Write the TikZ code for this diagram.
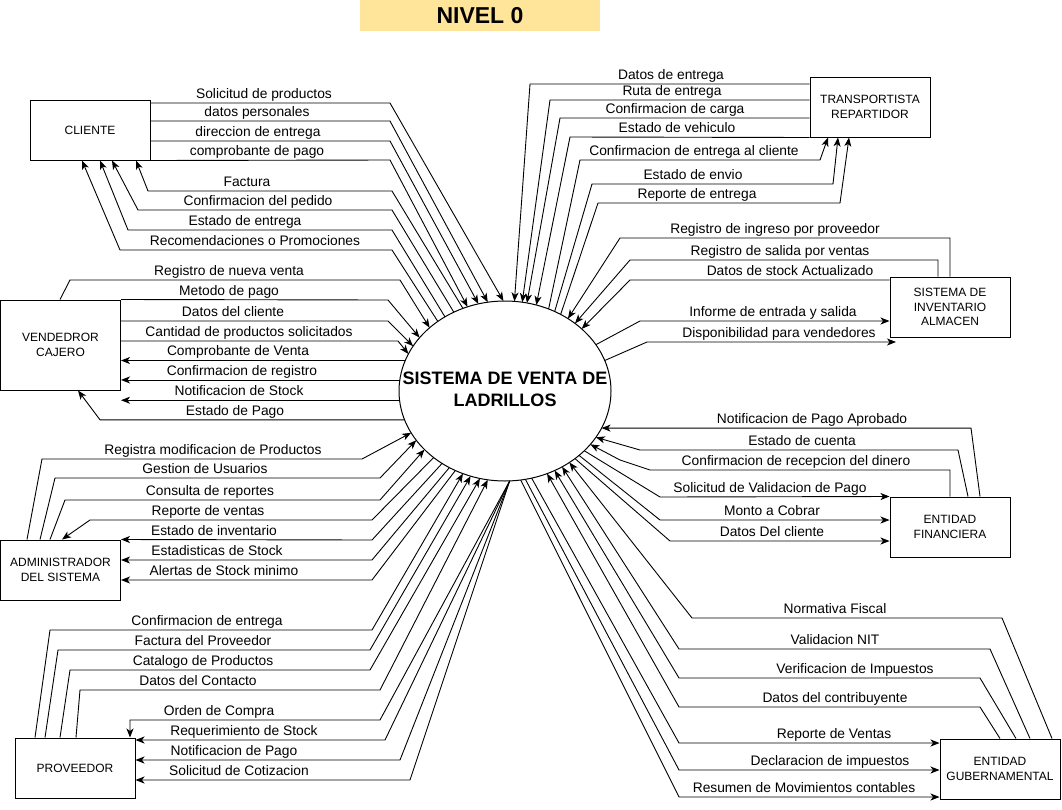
\documentclass[tikz,border=0pt]{standalone}
\usepackage{fontspec}
\setmainfont{Liberation Sans}
\usetikzlibrary{arrows.meta,shapes.geometric}
\definecolor{titlefill}{HTML}{FFE599}
\newcommand{\lblsize}{\fontsize{13.8}{16}\selectfont}
\newcommand{\entsize}{\fontsize{12}{14.5}\selectfont}

\begin{document}
\begin{tikzpicture}[x=1pt,y=-1pt,
    ent/.style={draw,line width=1pt,minimum width=120,minimum height=60,inner sep=0pt,align=center,font=\entsize},
    flow/.style={line width=0.9pt,-{Stealth[length=9pt,width=7pt,inset=2.5pt]}},
    lbl/.style={anchor=south,inner sep=1pt,text height=10pt,text depth=3pt,font=\lblsize}]
    \useasboundingbox (0,0) rectangle (1062,809);
    \node[fill=titlefill,minimum width=240,minimum height=31,inner sep=0pt,font=\bfseries\fontsize{23}{26}\selectfont] (title) at (480,15.5) {NIVEL 0};
    \node[draw,ellipse,line width=1pt,minimum width=212,minimum height=180,inner sep=0pt,outer sep=0pt] (sys) at (505,391) {};
    \node[font=\bfseries\fontsize{18}{22}\selectfont,align=center] (systxt) at (505,389) {SISTEMA DE VENTA DE\\LADRILLOS};
    \node[ent] (cli) at (90,130) {CLIENTE};
    \node[ent,minimum height=90] (ven) at (60.5,345) {VENDEDROR\\CAJERO};
    \node[ent] (adm) at (60.5,570) {ADMINISTRADOR\\DEL SISTEMA};
    \node[ent] (pro) at (75,768) {PROVEEDOR};
    \node[ent] (tra) at (870,107) {TRANSPORTISTA\\REPARTIDOR};
    \node[ent] (inv) at (950,307) {SISTEMA DE\\INVENTARIO\\ALMACEN};
    \node[ent] (fin) at (950,527) {ENTIDAD\\FINANCIERA};
    \node[ent] (gub) at (1000,769) {ENTIDAD\\GUBERNAMENTAL};
    \coordinate (disp) at (896,342);

    \draw[flow] (cli.east |- 0,103) -- (390,103) node[lbl] at (264,103) {Solicitud de productos} -- (sys.91);
    \draw[flow] (cli.east |- 0,121) -- (390,121) node[lbl] at (257,121) {datos personales} -- (sys.101);
    \draw[flow] (cli.east |- 0,141) -- (390,141) node[lbl] at (258,141) {direccion de entrega} -- (sys.107);
    \draw[flow] (cli.south east) -- (390,160) node[lbl] at (257,160) {comprobante de pago} -- (sys.114);
    \draw[flow] (sys.117) -- (392,191) -- (148,191) node[lbl] at (247,191) {Factura} -- (136,0 |- cli.south);
    \draw[flow] (sys.123) -- (392,210) -- (138,210) node[lbl] at (258,210) {Confirmacion del pedido} -- (112,0 |- cli.south);
    \draw[flow] (sys.129) -- (392,230) -- (128,230) node[lbl] at (245,230) {Estado de entrega} -- (100,0 |- cli.south);
    \draw[flow] (sys.134) -- (392,250) -- (120,250) node[lbl] at (255,250) {Recomendaciones o Promociones} -- (82,0 |- cli.south);

    \draw[flow] (60,0 |- ven.north) -- (70,280) -- (400,280) node[lbl] at (229,280) {Registro de nueva venta} -- (sys.140);
    \draw[flow] (ven.north east) -- (388,300) node[lbl] at (229,300) {Metodo de pago} -- (sys.148);
    \draw[flow] (ven.east |- 0,321) -- (388,321) node[lbl] at (233,321) {Datos del cliente} -- (sys.154);
    \draw[flow] (ven.east |- 0,341) -- (398,341) node[lbl] at (249,341) {Cantidad de productos solicitados} -- (sys.159);
    \draw[flow] (sys.163) -- (sys.163 -| ven.east) node[lbl] at (238,360) {Comprobante de Venta};
    \draw[flow] (sys.174) -- (sys.174 -| ven.east) node[lbl] at (242,380) {Confirmacion de registro};
    \draw[flow] (sys.185) -- (sys.185 -| ven.east) node[lbl] at (239,400) {Notificacion de Stock};
    \draw[flow] (sys.196) -- (sys.196 -| 100,0) node[lbl] at (235,420) {Estado de Pago} -- (78,0 |- ven.south);

    \draw[flow] (27,0 |- adm.north) -- (42,459) -- (362,459) node[lbl] at (213,459) {Registra modificacion de Productos} -- (sys.204);
    \draw[flow] (40,0 |- adm.north) -- (55,478) -- (380,478) node[lbl] at (205,478) {Gestion de Usuarios} -- (sys.209);
    \draw[flow] (50,0 |- adm.north) -- (65,500) -- (380,500) node[lbl] at (210,500) {Consulta de reportes} -- (sys.216);
    \draw[flow] (sys.223) -- (372,520) -- (90,520) node[lbl] at (208,520) {Reporte de ventas} -- (62,0 |- adm.north);
    \draw[flow] (sys.229) -- (372,540) -- (adm.north east) node[lbl] at (214,540) {Estado de inventario};
    \draw[flow] (sys.234) -- (372,560) -- (372,560 -| adm.east) node[lbl] at (217,560) {Estadisticas de Stock};
    \draw[flow] (sys.238) -- (372,580) -- (372,580 -| adm.east) node[lbl] at (224,580) {Alertas de Stock minimo};

    \draw[flow] (35,0 |- pro.north) -- (50,630) -- (372,630) node[lbl] at (207,630) {Confirmacion de entrega} -- (sys.243);
    \draw[flow] (45,0 |- pro.north) -- (58,650) -- (370,650) node[lbl] at (203,650) {Factura del Proveedor} -- (sys.248);
    \draw[flow] (60,0 |- pro.north) -- (70,670) -- (370,670) node[lbl] at (203,670) {Catalogo de Productos} -- (sys.254);
    \draw[flow] (76,0 |- pro.north) -- (80,690) -- (380,690) node[lbl] at (198,690) {Datos del Contacto} -- (sys.259);
    \draw[flow] (sys.273) -- (380,720) -- (130,720) node[lbl] at (219,720) {Orden de Compra} -- (130,0 |- pro.north);
    \draw[flow] (sys.273) -- (385,740) -- (385,740 -| pro.east) node[lbl] at (244,740) {Requerimiento de Stock};
    \draw[flow] (sys.273) -- (400,760) -- (400,760 -| pro.east) node[lbl] at (234,760) {Notificacion de Pago};
    \draw[flow] (sys.273) -- (410,780) -- (410,780 -| pro.east) node[lbl] at (239,780) {Solicitud de Cotizacion};

    \draw[flow] (tra.west |- 0,84) -- (530,84) node[lbl] at (671,84) {Datos de entrega} -- (sys.84);
    \draw[flow] (tra.west |- 0,100) -- (550,100) node[lbl] at (672,100) {Ruta de entrega} -- (sys.79);
    \draw[flow] (tra.west |- 0,118) -- (560,118) node[lbl] at (675,118) {Confirmacion de carga} -- (sys.76);
    \draw[flow] (tra.south west) -- (570,137) node[lbl] at (677,137) {Estado de vehiculo} -- (sys.70);
    \draw[flow] (sys.62) -- (580,160) -- (820,160) node[lbl] at (694,160) {Confirmacion de entrega al cliente} -- (828,0 |- tra.south);
    \draw[flow] (sys.58) -- (592,184) -- (833,184) node[lbl] at (693,184) {Estado de envio} -- (838,0 |- tra.south);
    \draw[flow] (sys.54) -- (598,203) -- (840,203) node[lbl] at (697,203) {Reporte de entrega} -- (849,0 |- tra.south);

    \draw[flow] (950,0 |- inv.north) -- (950,238) -- (620,238) node[lbl] at (775,238) {Registro de ingreso por proveedor} -- (sys.49);
    \draw[flow] (938,0 |- inv.north) -- (938,260) -- (630,260) node[lbl] at (780,260) {Registro de salida por ventas} -- (sys.44);
    \draw[flow] (inv.west |- 0,280) -- (630,280) node[lbl] at (790,280) {Datos de stock Actualizado} -- (sys.39);
    \draw[flow] (sys.27) -- (640,321) -- (640,321 -| inv.west) node[lbl] at (773,321) {Informe de entrada y salida};
    \draw[flow] (sys.17) -- (647,342) -- (disp) node[lbl] at (779,342) {Disponibilidad para vendedores};

    \draw[flow] (980,0 |- fin.north) -- (sys.339 -| 971,0) node[lbl] at (812,428) {Notificacion de Pago Aprobado} -- (sys.339);
    \draw[flow] (968,0 |- fin.north) -- (958,450) -- (640,450) node[lbl] at (802,450) {Estado de cuenta} -- (sys.333);
    \draw[flow] (950,0 |- fin.north) -- (950,470) -- (650,470) node[lbl] at (796,470) {Confirmacion de recepcion del dinero} -- (620,460) -- (sys.328);
    \draw[flow] (sys.323) -- (660,497) -- (fin.north west) node[lbl] at (770,497) {Solicitud de Validacion de Pago};
    \draw[flow] (sys.319) -- (660,520) -- (660,520 -| fin.west) node[lbl] at (772,520) {Monto a Cobrar};
    \draw[flow] (sys.316) -- (670,541) -- (670,541 -| fin.west) node[lbl] at (772,541) {Datos Del cliente};

    \draw[flow] (1052,0 |- gub.north) -- (1002,618) -- (692,618) node[lbl] at (835,618) {Normativa Fiscal} -- (sys.312);
    \draw[flow] (1030,0 |- gub.north) -- (990,649) -- (679,649) node[lbl] at (835,649) {Validacion NIT} -- (sys.307);
    \draw[flow] (1016,0 |- gub.north) -- (980,678) -- (679,678) node[lbl] at (855,678) {Verificacion de Impuestos} -- (sys.302);
    \draw[flow] (1000,0 |- gub.north) -- (980,707) -- (679,707) node[lbl] at (835,707) {Datos del contribuyente} -- (sys.297);
    \draw[flow] (sys.287) -- (679,743) -- (679,743 -| gub.west) node[lbl] at (834,743) {Reporte de Ventas};
    \draw[flow] (sys.283) -- (679,770) -- (679,770 -| gub.west) node[lbl] at (830,770) {Declaracion de impuestos};
    \draw[flow] (sys.280) -- (679,797) -- (679,797 -| gub.west) node[lbl] at (804,797) {Resumen de Movimientos contables};
\end{tikzpicture}
\end{document}
